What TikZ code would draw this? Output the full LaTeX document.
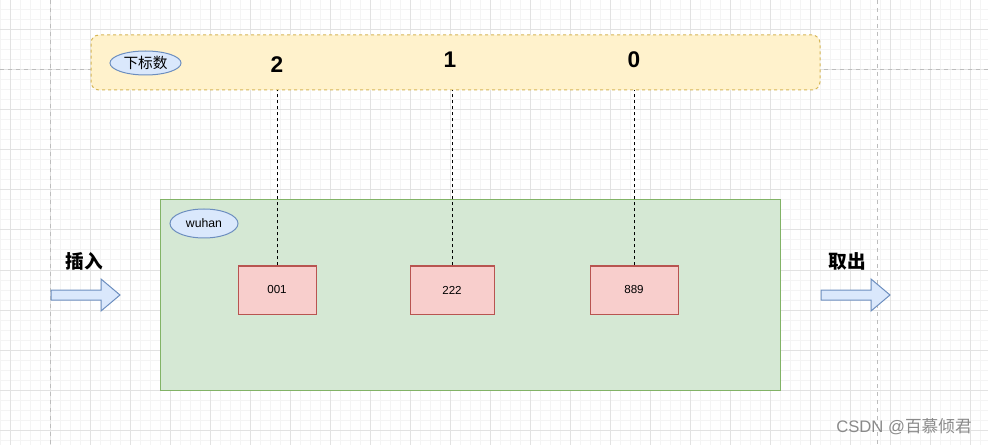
\documentclass[tikz,border=0pt]{standalone}
\usepackage{fontspec}
\setmainfont{Liberation Sans}
\newfontfamily\cjk{Noto Sans CJK SC}
\usetikzlibrary{shapes.geometric}
\definecolor{gridminor}{HTML}{F4F4F4}
\definecolor{gridmajor}{HTML}{E2E2E2}
\definecolor{guide}{HTML}{BDBDBD}
\definecolor{yfill}{HTML}{FFF2CC}
\definecolor{ydraw}{HTML}{D6B656}
\definecolor{gfill}{HTML}{D5E8D4}
\definecolor{gdraw}{HTML}{82B366}
\definecolor{rfill}{HTML}{F8CECC}
\definecolor{rdraw}{HTML}{B85450}
\definecolor{bfill}{HTML}{DAE8FC}
\definecolor{bdraw}{HTML}{6C8EBF}
\definecolor{wm}{HTML}{8A8A8A}
\tikzset{
  minorline/.style={draw=gridminor, line width=0.75pt},
  majorline/.style={draw=gridmajor, line width=0.75pt},
  guideline/.style={draw=guide, line width=0.75pt, dash pattern=on 3pt off 3pt},
  ybox/.style={rectangle, rounded corners=6pt, fill=yfill, draw=ydraw, line width=0.75pt, dash pattern=on 2.25pt off 2.25pt, inner sep=0pt},
  gbox/.style={rectangle, fill=gfill, draw=gdraw, line width=0.75pt, inner sep=0pt},
  rbox/.style={rectangle, fill=rfill, draw=rdraw, line width=0.75pt, inner sep=0pt, minimum height=36pt, font=\fontsize{8.7}{10}\selectfont},
  tag/.style={ellipse, fill=bfill, draw=bdraw, line width=0.75pt, inner sep=0pt},
  num/.style={font=\fontsize{17}{19}\selectfont\bfseries, inner sep=0pt},
  lbl/.style={font=\cjk\fontsize{14}{16}\selectfont\bfseries, inner sep=0pt},
  conn/.style={draw=black, line width=0.75pt, dash pattern=on 2.25pt off 2.25pt},
  bigarrow/.style={fill=bfill, draw=bdraw, line width=0.75pt, line join=miter},
}
\begin{document}
\begin{tikzpicture}[x=0.75pt,y=-0.75pt]
\useasboundingbox (0,0) rectangle (988,445);
\fill[white] (0,0) rectangle (988,445);
% grid
\foreach \i in {0,10,...,980} \draw[minorline] (\i,0) -- (\i,445);
\foreach \j in {0,10,...,440} \draw[minorline] (0,\j) -- (988,\j);
\foreach \i in {10,50,...,970} \draw[majorline] (\i,0) -- (\i,445);
\foreach \j in {30,70,...,430} \draw[majorline] (0,\j) -- (988,\j);
\draw[guideline] (50,0) -- (50,445);
\draw[guideline] (877,0) -- (877,445);
\draw[guideline] (0,70) -- (988,70);

% index bar
\node[ybox, minimum width=546.75pt, minimum height=41.25pt] (idx) at (455.5,62.5) {};
\node[tag, minimum width=53.25pt, minimum height=18pt, font=\cjk\fontsize{11}{12}\selectfont] (tagidx) at (145.5,63) {下标数};
\node[num] (n2) at (277,65) {2};
\node[num] (n1) at (450,60) {1};
\node[num] (n0) at (634,60) {0};

% container
\node[gbox, minimum width=465pt, minimum height=142.5pt] (cont) at (470,295) {};
\node[tag, minimum width=51pt, minimum height=21.75pt, font=\fontsize{9.2}{11}\selectfont] (tagw) at (204,223.5) {wuhan};
\node[rbox, minimum width=58.5pt] (b1) at (277,290) {001};
\node[rbox, minimum width=63pt] (b2) at (452,290) {222};
\node[rbox, minimum width=66pt] (b3) at (634,290) {889};

\draw[conn] (b1.north) -- (b1.north |- idx.south);
\draw[conn] (b2.north) -- (b2.north |- idx.south);
\draw[conn] (b3.north) -- (b3.north |- idx.south);

% arrows
\draw[bigarrow] (51,290) -- (101,290) -- (101,279) -- (120,295) -- (101,311) -- (101,300) -- (51,300) -- cycle;
\draw[bigarrow] (821,290) -- (871,290) -- (871,279) -- (890,295) -- (871,311) -- (871,300) -- (821,300) -- cycle;
\node[lbl] (lin) at (84,261) {插入};
\node[lbl] (lout) at (847,261) {取出};

% watermark
\node[inner sep=0pt, text=wm, font=\fontsize{12.5}{14}\selectfont] (wmk) at (904,427) {CSDN @{\cjk 百慕倾君}};
\end{tikzpicture}
\end{document}
